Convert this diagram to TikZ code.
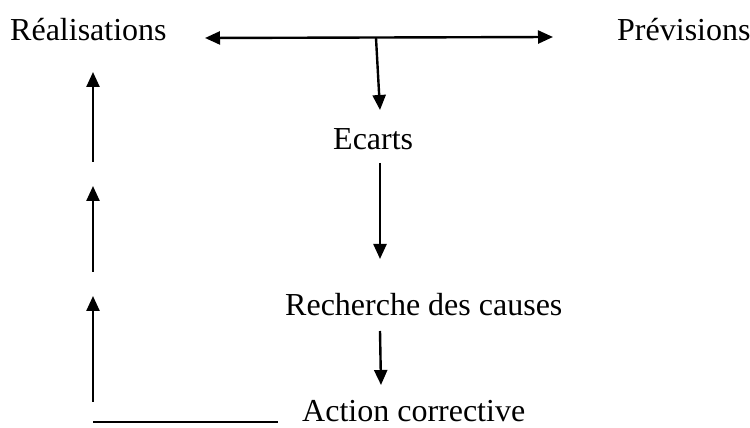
\documentclass[tikz,border=0pt]{standalone}
\usepackage{fontspec}
\setmainfont{Liberation Serif}
\usetikzlibrary{arrows.meta}
\begin{document}
\begin{tikzpicture}[x=1pt,y=1pt,
  lbl/.style={inner sep=0pt, anchor=base west, font=\fontsize{32}{36}\selectfont},
  flow/.style={line width=2.4pt, -{Triangle[length=15pt,width=13pt]}},
  both/.style={line width=2.4pt, {Triangle[length=15pt,width=13pt]}-{Triangle[length=15pt,width=13pt]}},
  plain/.style={line width=1.8pt}]
\useasboundingbox (0,0) rectangle (750,428);

% labels
\node[lbl] (real) at (10,387) {Réalisations};
\node[lbl] (prev) at (617,387) {Prévisions};
\node[lbl] (ecarts) at (333,278) {Ecarts};
\node[lbl] (rech) at (285,112) {Recherche des causes};
\node[lbl] (action) at (302,6) {Action corrective};

% connector end points
\coordinate (hl) at (205,390);
\coordinate (hr) at (553,391);
\coordinate (hj) at (376,390);
\coordinate (e1) at (380,318);
\coordinate (e2) at (380,265);
\coordinate (e3) at (380,169);
\coordinate (r1) at (380,97);
\coordinate (r2) at (381,43);
\coordinate (b0) at (93,6);
\coordinate (b1) at (278,6);
\coordinate (v1) at (93,26);
\coordinate (v2) at (93,132);
\coordinate (v3) at (93,156);
\coordinate (v4) at (93,242);
\coordinate (v5) at (93,266);
\coordinate (v6) at (93,356);

% comparison between actual and planned
\draw[both] (hl) -- (hr);
\draw[flow] (hj) -- (e1);
% downward chain
\draw[flow] (e2) -- (e3);
\draw[flow] (r1) -- (r2);
% feedback loop back to the actuals
\draw[plain] (b0) -- (b1);
\draw[flow] (v1) -- (v2);
\draw[flow] (v3) -- (v4);
\draw[flow] (v5) -- (v6);
\end{tikzpicture}
\end{document}
